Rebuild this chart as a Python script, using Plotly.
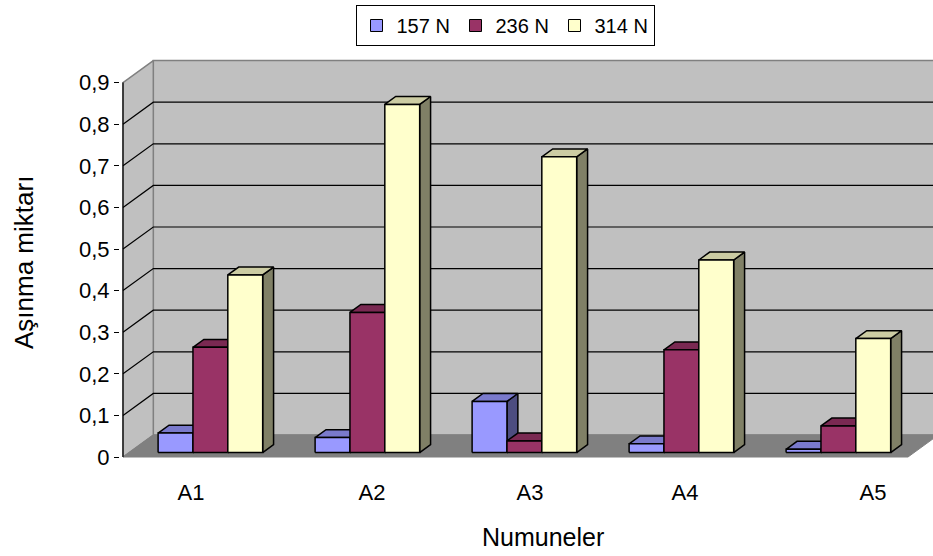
import plotly.graph_objects as go

# Wear amount per specimen for each applied load
categories = ["A1", "A2", "A3", "A4", "A5"]
series_names = ["157 N", "236 N", "314 N"]
load_157 = [0.047, 0.036, 0.123, 0.021, 0.008]
load_236 = [0.253, 0.337, 0.028, 0.247, 0.064]
load_314 = [0.427, 0.837, 0.711, 0.463, 0.274]
y_max = 0.9
y_step = 0.1

# Category label positions along the floor (category units)
label_pos = [0.433, 1.586, 2.592, 3.58, 4.777]

# colours: front, top, side
front_cols = ["#9999FF", "#993366", "#FFFFCC"]
top_cols = ["#7A7ACC", "#7A2952", "#CCCCA3"]
side_cols = ["#4D4D80", "#4D1A33", "#808066"]

# pixel geometry of the oblique projection
W, H = 933, 556
PX_CAT = 157.0        # pixels per category
PX_VAL = 416.0        # pixels per unit of wear
X0_PX, Y0_PX = 123, 457
DEPTH_DX_PX, DEPTH_DY_PX = 30.3, 22.0
DX = DEPTH_DX_PX / PX_CAT
DY = DEPTH_DY_PX / PX_VAL
F0, F1 = 0.2, 0.56    # bar front/back as fraction of floor depth
BAR_W = 0.222
GROUP_LEFT = 0.185

m_l, m_r, m_t = 120, 0, 55
m_b = H - (Y0_PX + 4)
x_range = [-(X0_PX - m_l) / PX_CAT, (W - m_r - X0_PX) / PX_CAT]
y_range = [-(4) / PX_VAL, (Y0_PX - m_t) / PX_VAL]
plot_w = W - m_l - m_r
plot_h = H - m_t - m_b


def px_x(p):
    return (p - m_l) / plot_w


def px_y(p):
    return ((H - m_b) - p) / plot_h


n_cat = len(categories)
values = [load_157, load_236, load_314]

fig = go.Figure()


def poly(pts):
    xs = [p[0] for p in pts] + [pts[0][0], None]
    ys = [p[1] for p in pts] + [pts[0][1], None]
    return xs, ys


def at(x, v, f):
    return (x + f * DX, v + f * DY)


def add_poly(xs, ys, fill, line, width=1.0):
    fig.add_trace(go.Scatter(x=xs, y=ys, mode="lines", fill="toself",
                             fillcolor=fill, line=dict(color=line, width=width),
                             hoverinfo="skip", showlegend=False))


def add_line(xs, ys, color, width=1.0):
    fig.add_trace(go.Scatter(x=xs, y=ys, mode="lines",
                             line=dict(color=color, width=width),
                             hoverinfo="skip", showlegend=False))


# back wall
xs, ys = poly([at(0, 0, 1), at(n_cat + 1, 0, 1), at(n_cat + 1, y_max, 1), at(0, y_max, 1)])
add_poly(xs, ys, "#C0C0C0", "#808080", 1.5)
# left side wall
xs, ys = poly([at(0, 0, 0), at(0, 0, 1), at(0, y_max, 1), at(0, y_max, 0)])
add_poly(xs, ys, "#C0C0C0", "#808080", 1.5)
# floor
xs, ys = poly([at(0, 0, 0), at(n_cat, 0, 0), at(n_cat, 0, 1), at(0, 0, 1)])
add_poly(xs, ys, "#808080", "#808080", 1.0)

# gridlines on the walls
n_ticks = int(round(y_max / y_step))
gx, gy = [], []
for k in range(1, n_ticks):
    v = k * y_step
    a, b, c = at(0, v, 0), at(0, v, 1), at(n_cat + 1, v, 1)
    gx += [a[0], b[0], c[0], None]
    gy += [a[1], b[1], c[1], None]
add_line(gx, gy, "#000000", 1.2)
# front edge of the side wall
add_line([0, 0], [0, y_max], "#000000", 1.2)

# bars: sides, then tops, then fronts
faces = {"side": [], "top": [], "front": []}
for s, vals in enumerate(values):
    sx, sy, tx, ty, fx, fy = [], [], [], [], [], []
    for i, v in enumerate(vals):
        x0 = i + GROUP_LEFT + s * BAR_W
        x1 = x0 + BAR_W
        px, py = poly([at(x1, 0, F0), at(x1, 0, F1), at(x1, v, F1), at(x1, v, F0)])
        sx += px; sy += py
        px, py = poly([at(x0, v, F0), at(x1, v, F0), at(x1, v, F1), at(x0, v, F1)])
        tx += px; ty += py
        px, py = poly([at(x0, 0, F0), at(x1, 0, F0), at(x1, v, F0), at(x0, v, F0)])
        fx += px; fy += py
    faces["side"].append((sx, sy, side_cols[s]))
    faces["top"].append((tx, ty, top_cols[s]))
    faces["front"].append((fx, fy, front_cols[s]))

for key in ["side", "top", "front"]:
    for xs, ys, col in faces[key]:
        add_poly(xs, ys, col, "#000000", 1.5)

# legend entries
for name, col in zip(series_names, front_cols):
    fig.add_trace(go.Scatter(x=[None], y=[None], mode="markers", name=name,
                             marker=dict(symbol="square", size=12, color=col,
                                         line=dict(color="#000000", width=1))))

font_family = "Liberation Sans, Arial, sans-serif"

fig.update_layout(
    width=W, height=H,
    margin=dict(l=m_l, r=m_r, t=m_t, b=m_b),
    paper_bgcolor="#FFFFFF", plot_bgcolor="#FFFFFF",
    separators=", ",
    font=dict(family=font_family, color="#000000", size=21),
    showlegend=True,
    legend=dict(orientation="h", x=px_x(505), xanchor="center",
                y=px_y(5), yanchor="top",
                bordercolor="#000000", borderwidth=1, bgcolor="#FFFFFF",
                font=dict(size=20), itemwidth=30, entrywidth=54,
                tracegroupgap=0),
    xaxis=dict(range=x_range, showgrid=False, zeroline=False, showline=False,
               tickvals=label_pos, ticktext=categories, ticks="",
               tickfont=dict(size=22), ticklabelstandoff=16, fixedrange=True),
    yaxis=dict(range=y_range, showgrid=False, zeroline=False, showline=False,
               tick0=0, dtick=y_step, ticks="outside", ticklen=5, tickwidth=1,
               tickcolor="#000000", tickfont=dict(size=22), fixedrange=True),
    annotations=[
        dict(text="Numuneler", xref="paper", yref="paper",
             x=px_x(543), y=px_y(537),
             xanchor="center", yanchor="middle", showarrow=False,
             font=dict(size=25)),
        dict(text="Aşınma miktarı", xref="paper", yref="paper",
             x=px_x(24), y=px_y(263),
             xanchor="center", yanchor="middle", textangle=-90, showarrow=False,
             font=dict(size=26)),
    ],
)

fig.write_html("out.html")
